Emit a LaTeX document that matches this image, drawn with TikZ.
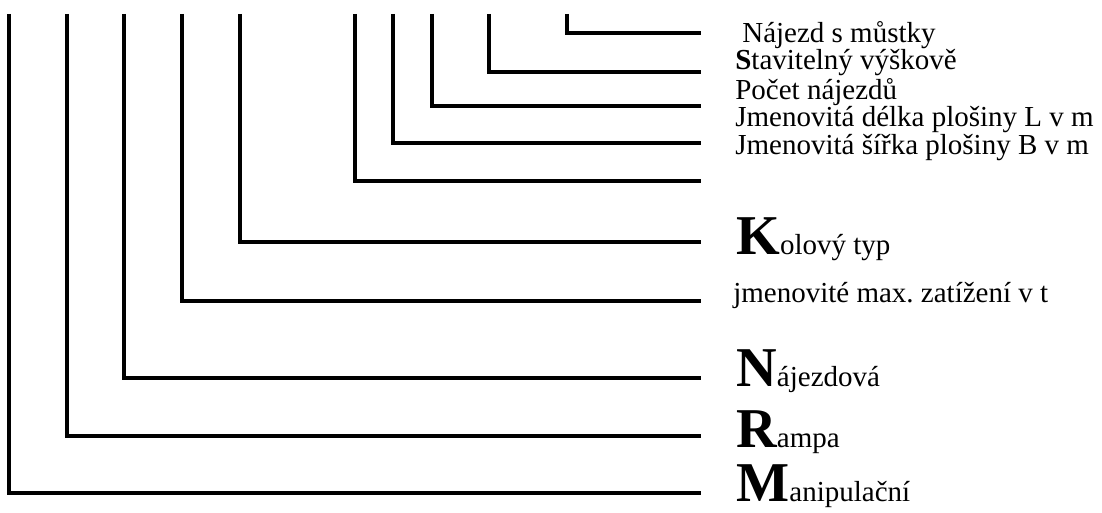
\documentclass[tikz,border=0pt]{standalone}
\usepackage{fontspec}
\setmainfont{Liberation Serif}
\usetikzlibrary{positioning}
\newcommand{\inicial}[1]{{\fontsize{32}{32}\selectfont\bfseries #1}}
\frenchspacing

\begin{document}
\begin{tikzpicture}[x=0.02cm,y=-0.02cm,font=\fontsize{16.5}{18}\selectfont,
  vetev/.style={line width=2.5pt},
  popis/.style={anchor=base west,inner sep=0pt}]
\useasboundingbox (0,0) rectangle (1102,513);
% horni konce vetvi
\coordinate (h1) at (567,14);
\coordinate (h2) at (489,14);
\coordinate (h3) at (432,14);
\coordinate (h4) at (393,14);
\coordinate (h5) at (355,14);
\coordinate (h6) at (240,14);
\coordinate (h7) at (182,14);
\coordinate (h8) at (124,14);
\coordinate (h9) at (67,14);
\coordinate (h10) at (9,14);
% prave konce vetvi
\coordinate (k1) at (701,33);
\coordinate (k2) at (701,72);
\coordinate (k3) at (701,106);
\coordinate (k4) at (701,143);
\coordinate (k5) at (701,181);
\coordinate (k6) at (701,242);
\coordinate (k7) at (701,301);
\coordinate (k8) at (701,378);
\coordinate (k9) at (701,436);
\coordinate (k10) at (701,493);
\draw[vetev] (h1) |- (k1);
\draw[vetev] (h2) |- (k2);
\draw[vetev] (h3) |- (k3);
\draw[vetev] (h4) |- (k4);
\draw[vetev] (h5) |- (k5);
\draw[vetev] (h6) |- (k6);
\draw[vetev] (h7) |- (k7);
\draw[vetev] (h8) |- (k8);
\draw[vetev] (h9) |- (k9);
\draw[vetev] (h10) |- (k10);
% popisy
\node[popis] (n1) at (742,43) {Nájezd s můstky};
\node[popis] (n2) at (735,70) {\textbf{S}tavitelný výškově};
\node[popis] (n3) at (735,100) {Počet nájezdů};
\node[popis] (n4) at (735,127) {Jmenovitá délka plošiny L v m};
\node[popis] (n5) at (735,155) {Jmenovitá šířka plošiny B v m};
\node[popis] (n6) at (736,255) {\inicial{K}olový typ};
\node[popis] (n7) at (733,302) {jmenovité max. zatížení v t};
\node[popis] (n8) at (736,386) {\inicial{N}ájezdová};
\node[popis] (n9) at (736,447) {\inicial{R}ampa};
\node[popis] (n10) at (736,501) {\inicial{M}anipulační};
\end{tikzpicture}
\end{document}
